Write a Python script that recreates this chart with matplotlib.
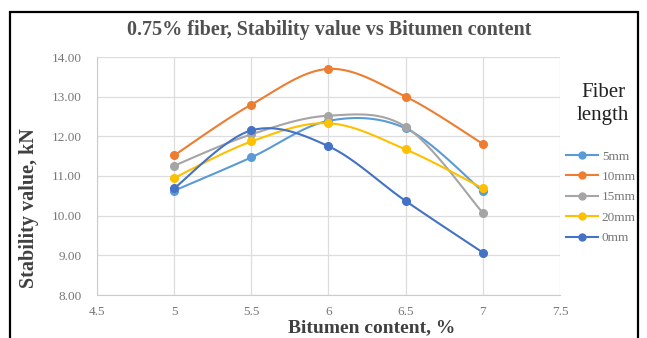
import numpy as np
import matplotlib
matplotlib.use("Agg")
import matplotlib.pyplot as plt
from matplotlib.patches import Rectangle

bitumen = [5, 5.5, 6, 6.5, 7]
series_names = ["5mm", "10mm", "15mm", "20mm", "0mm"]
v_5mm = [10.63, 11.47, 12.39, 12.20, 10.61]
v_10mm = [11.52, 12.80, 13.70, 13.00, 11.81]
v_15mm = [11.26, 12.05, 12.52, 12.24, 10.07]
v_20mm = [10.95, 11.87, 12.33, 11.67, 10.69]
v_0mm = [10.69, 12.15, 11.75, 10.37, 9.07]
colors = ["#5B9BD5", "#ED7D31", "#A5A5A5", "#FFC000", "#4472C4"]
xticks = [4.5, 5, 5.5, 6, 6.5, 7, 7.5]
yticks = [8, 9, 10, 11, 12, 13, 14]


def smooth(x, y, n=30):
    # Excel-like smoothed line: cubic Bezier segments with Catmull-Rom tangents
    x = np.asarray(x, float); y = np.asarray(y, float)
    px, py = [], []
    m = len(x)
    for i in range(m - 1):
        x0, y0 = (x[i - 1], y[i - 1]) if i > 0 else (x[i], y[i])
        x3, y3 = (x[i + 2], y[i + 2]) if i + 2 < m else (x[i + 1], y[i + 1])
        x1, y1 = x[i], y[i]
        x2, y2 = x[i + 1], y[i + 1]
        t = 1 / 6
        c1 = (x1 + (x2 - x0) * t, y1 + (y2 - y0) * t)
        c2 = (x2 - (x3 - x1) * t, y2 - (y3 - y1) * t)
        s = np.linspace(0, 1, n)
        bx = (1 - s) ** 3 * x1 + 3 * (1 - s) ** 2 * s * c1[0] + 3 * (1 - s) * s ** 2 * c2[0] + s ** 3 * x2
        by = (1 - s) ** 3 * y1 + 3 * (1 - s) ** 2 * s * c1[1] + 3 * (1 - s) * s ** 2 * c2[1] + s ** 3 * y2
        px.extend(bx); py.extend(by)
    return px, py


W, H = 647, 338
fig = plt.figure(figsize=(W / 100, H / 100), dpi=100)
fig.add_artist(Rectangle((10 / W, -0.05), 628 / W, 1 - 12 / H + 0.05,
                         transform=fig.transFigure, fill=False, edgecolor="black", linewidth=1.6))

ax = fig.add_axes([97 / W, 1 - 295 / H, 463 / W, 238 / H])
serif = "Liberation Serif"
for name, vals, c in zip(series_names, [v_5mm, v_10mm, v_15mm, v_20mm, v_0mm], colors):
    sx, sy = smooth(bitumen, vals)
    ax.plot(sx, sy, color=c, linewidth=1.5, zorder=3)
    ax.plot(bitumen, vals, linestyle="none", marker="o", markersize=5.5, color=c, zorder=4)
    ax.plot([], [], color=c, marker="o", markersize=5, linewidth=1.5, label=name)

ax.set_xlim(4.5, 7.5)
ax.set_ylim(8, 14)
ax.set_xticks(xticks)
ax.set_xticklabels([f"{v:g}" for v in xticks], family=serif, fontsize=9.5, color="#777777")
ax.set_yticks(yticks)
ax.set_yticklabels([f"{v:.2f}" for v in yticks], family=serif, fontsize=9.5, color="#777777")
ax.grid(True, color="#DDDDDD", linewidth=0.9)
ax.set_axisbelow(True)
for s in ["top", "right"]:
    ax.spines[s].set_visible(False)
for s in ["left", "bottom"]:
    ax.spines[s].set_color("#CCCCCC")
ax.tick_params(axis="y", length=0, pad=11)
ax.tick_params(axis="x", length=0, pad=8)

fig.text(372 / W, 1 - 328 / H, "Bitumen content, %", family=serif, fontweight="bold", fontsize=14,
         color="#404040", ha="center", va="center")
fig.text(29 / W, 1 - 208 / H, "Stability value, kN", family=serif, fontweight="bold", fontsize=14.5,
         color="#404040", ha="center", va="center", rotation=90)
fig.text(329 / W, 1 - 30 / H, "0.75% fiber, Stability value vs Bitumen content", family=serif,
         fontweight="bold", fontsize=14.5, color="#505050", ha="center", va="center")

fig.text(603 / W, 1 - 104 / H, "Fiber\nlength", family=serif, fontsize=15, color="#222222",
         ha="center", va="center", linespacing=1.25)
leg = fig.legend(loc="upper left", bbox_to_anchor=(561 / W, 1 - 145 / H), frameon=False,
                 prop={"family": serif, "size": 9.5}, labelspacing=0.62, handlelength=2.4,
                 handletextpad=0.3, borderaxespad=0)
for t in leg.get_texts():
    t.set_color("#777777")

fig.savefig("out.png", dpi=100)
